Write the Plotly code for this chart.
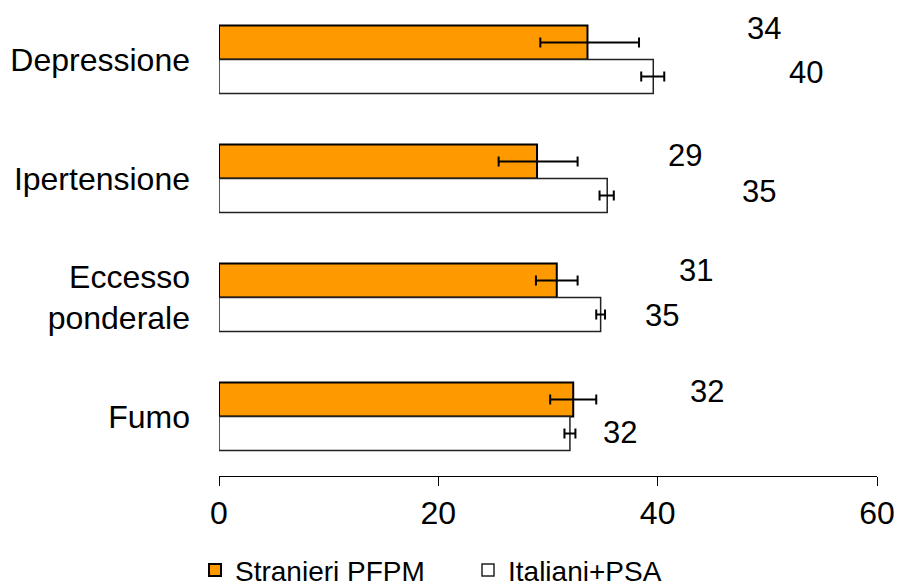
import plotly.graph_objects as go

categories = ["Depressione", "Ipertensione", "Eccesso<br>ponderale", "Fumo"]
series_names = ["Stranieri PFPM", "Italiani+PSA"]

stranieri = [33.6, 29.0, 30.8, 32.3]
stranieri_lo = [29.3, 25.5, 28.9, 30.2]
stranieri_hi = [38.3, 32.7, 32.7, 34.4]

italiani = [39.6, 35.4, 34.8, 32.0]
italiani_lo = [38.5, 34.7, 34.4, 31.5]
italiani_hi = [40.6, 36.0, 35.2, 32.5]

x_ticks = [0, 20, 40, 60]

# label placement (data x position, pixel y shift) – layout, not data
label_x_str = [49.7, 42.5, 43.5, 44.5]
label_dy_str = [31, 23, 27, 25]
label_x_ita = [53.5, 49.2, 40.4, 36.6]
label_dy_ita = [-13, -13, -18, -16]

FONT = "Liberation Sans, Arial, sans-serif"

fig = go.Figure()
fig.add_trace(go.Bar(
    name=series_names[0], y=categories, x=stranieri, orientation="h",
    marker=dict(color="#FF9900", line=dict(color="black", width=2)),
    error_x=dict(type="data", symmetric=False,
                 array=[h - v for h, v in zip(stranieri_hi, stranieri)],
                 arrayminus=[v - l for l, v in zip(stranieri_lo, stranieri)],
                 color="black", thickness=2, width=5),
))
fig.add_trace(go.Bar(
    name=series_names[1], y=categories, x=italiani, orientation="h",
    marker=dict(color="white", line=dict(color="#222222", width=1.5)),
    error_x=dict(type="data", symmetric=False,
                 array=[h - v for h, v in zip(italiani_hi, italiani)],
                 arrayminus=[v - l for l, v in zip(italiani_lo, italiani)],
                 color="black", thickness=2, width=5),
))

annotations = []
for i, c in enumerate(categories):
    annotations.append(dict(x=label_x_str[i], y=c, yshift=label_dy_str[i],
                            text=f"{stranieri[i]:.0f}", showarrow=False,
                            font=dict(family=FONT, size=31, color="black")))
    annotations.append(dict(x=label_x_ita[i], y=c, yshift=label_dy_ita[i],
                            text=f"{italiani[i]:.0f}", showarrow=False,
                            font=dict(family=FONT, size=31, color="black")))

fig.update_layout(
    width=897, height=584,
    margin=dict(l=219, r=20, t=0, b=108, autoexpand=False),
    paper_bgcolor="white", plot_bgcolor="white",
    barmode="group", bargap=0.43, bargroupgap=0,
    font=dict(family=FONT, size=30, color="black"),
    showlegend=True,
    legend=dict(orientation="h", xref="container", yref="container",
                x=0.2174, xanchor="left", y=0.0235, yanchor="middle",
                traceorder="normal", font=dict(family=FONT, size=28, color="black"),
                entrywidth=228, entrywidthmode="pixels", itemclick=False),
    annotations=annotations,
)
fig.update_xaxes(range=[0, 60], tickvals=x_ticks, showgrid=False, zeroline=False,
                 showline=True, linecolor="black", linewidth=1,
                 ticks="outside", ticklen=9, tickcolor="black", tickwidth=1,
                 tickfont=dict(family=FONT, size=32, color="black"))
fig.update_yaxes(range=[3.5, -0.5], showgrid=False, zeroline=False, showline=False,
                 ticks="", ticklabelstandoff=28,
                 tickfont=dict(family=FONT, size=32, color="black"))

fig.write_html(
    "out.html",
    config={"displayModeBar": False},
    post_script="document.body.style.margin='0';"
                "document.documentElement.style.overflow='hidden';"
                "document.body.style.overflow='hidden';",
)
